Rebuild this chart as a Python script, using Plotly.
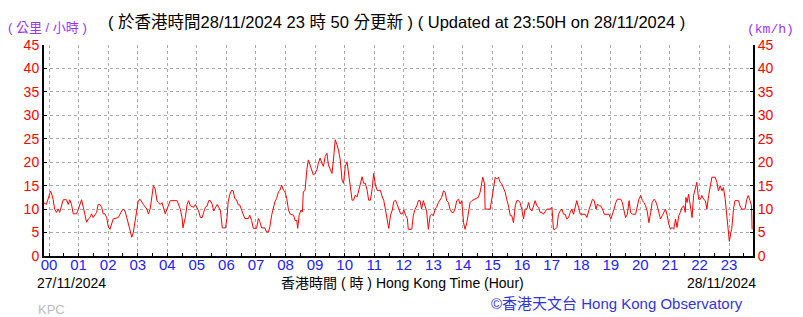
import plotly.graph_objects as go

# Wind speed (km/h), time in hours of 28/11/2024 (negative = 27/11)
hours = [
    -0.18, -0.09, 0.05, 0.08, 0.14, 0.19, 0.25, 0.31, 0.36, 0.42, 0.48, 0.59, 0.65, 0.70, 0.76, 0.82, 0.93, 0.99,
    1.04, 1.10, 1.16, 1.21, 1.27, 1.33, 1.38, 1.44, 1.49, 1.61, 1.66, 1.72, 1.78, 1.83, 1.89, 1.95,
    2.00, 2.06, 2.12, 2.17, 2.34, 2.40, 2.46, 2.51, 2.57, 2.63, 2.68, 2.74, 2.80, 2.85, 2.91, 2.97,
    3.02, 3.08, 3.14, 3.19, 3.31, 3.36, 3.42, 3.48, 3.53, 3.59, 3.65, 3.70, 3.76, 3.82, 3.87, 3.93, 3.99,
    4.04, 4.10, 4.33, 4.38, 4.44, 4.50, 4.53, 4.58, 4.61, 4.67, 4.72, 4.78, 4.89, 4.95,
    5.01, 5.06, 5.12, 5.18, 5.23, 5.29, 5.35, 5.40, 5.46, 5.52, 5.57, 5.63, 5.69, 5.74, 5.80, 5.86, 5.97,
    6.02, 6.06, 6.11, 6.17, 6.23, 6.28, 6.34, 6.40, 6.45, 6.51, 6.57, 6.62, 6.74, 6.79, 6.85, 6.91,
    7.02, 7.08, 7.13, 7.19, 7.30, 7.36, 7.42, 7.47, 7.53, 7.59, 7.64, 7.70, 7.76, 7.81, 7.87, 7.93, 7.98,
    8.04, 8.10, 8.15, 8.27, 8.32, 8.38, 8.41, 8.46, 8.52, 8.57, 8.60, 8.66, 8.72, 8.77, 8.83, 8.89, 8.94,
    9.00, 9.06, 9.11, 9.17, 9.23, 9.28, 9.34, 9.40, 9.45, 9.51, 9.57, 9.62, 9.68, 9.74, 9.79, 9.85, 9.91, 9.96,
    10.02, 10.08, 10.13, 10.19, 10.25, 10.30, 10.36, 10.42, 10.47, 10.53, 10.59, 10.64, 10.70, 10.76, 10.81, 10.87, 10.93, 10.98,
    11.04, 11.10, 11.21, 11.27, 11.32, 11.38, 11.44, 11.49, 11.55, 11.61, 11.66, 11.72, 11.78, 11.83, 11.89, 11.95,
    12.00, 12.06, 12.12, 12.15, 12.27, 12.32, 12.38, 12.44, 12.49, 12.55, 12.60, 12.66, 12.72, 12.77, 12.83, 12.89, 12.94,
    13.00, 13.06, 13.11, 13.17, 13.23, 13.28, 13.34, 13.40, 13.45, 13.51, 13.56, 13.62, 13.68, 13.73, 13.79, 13.85, 13.90, 13.96,
    14.02, 14.07, 14.13, 14.19, 14.24, 14.30, 14.41, 14.52, 14.58, 14.64, 14.67, 14.73, 14.75, 14.92, 14.98,
    15.03, 15.09, 15.14, 15.20, 15.26, 15.31, 15.37, 15.43, 15.48, 15.54, 15.60, 15.65, 15.71, 15.77, 15.82, 15.88, 15.93, 15.99,
    16.05, 16.10, 16.16, 16.22, 16.27, 16.33, 16.39, 16.44, 16.50, 16.56, 16.61, 16.67, 16.72, 16.78, 16.84, 16.95,
    17.01, 17.06, 17.12, 17.18, 17.23, 17.29, 17.35, 17.40, 17.46, 17.51, 17.57, 17.63, 17.68, 17.74, 17.80, 17.85, 17.91, 17.97,
    18.14, 18.19, 18.27, 18.33, 18.38, 18.44, 18.50, 18.55, 18.61, 18.66, 18.72, 18.78, 18.94,
    19.00, 19.06, 19.11, 19.17, 19.22, 19.34, 19.39, 19.45, 19.50, 19.56, 19.62, 19.67, 19.73, 19.84, 19.90, 19.95,
    20.01, 20.07, 20.12, 20.18, 20.23, 20.29, 20.35, 20.40, 20.46, 20.51, 20.57, 20.63, 20.68, 20.74, 20.79, 20.85, 20.91, 20.96,
    21.02, 21.07, 21.13, 21.19, 21.24, 21.30, 21.35, 21.41, 21.47, 21.52, 21.54, 21.58, 21.63, 21.69, 21.75, 21.80, 21.86, 21.91, 21.97,
    22.03, 22.08, 22.14, 22.20, 22.25, 22.31, 22.36, 22.42, 22.53, 22.59, 22.64, 22.70, 22.76, 22.81, 22.87, 22.92, 22.98,
    23.01, 23.06, 23.09, 23.15, 23.20, 23.32, 23.37, 23.43, 23.54, 23.60, 23.65, 23.71, 23.76, 23.78,
]
speeds = [
    11.4, 11, 13.8, 13.5, 12, 10, 9.3, 10, 9.3, 11, 12, 12, 11, 12, 11, 9, 9, 10,
    11, 12, 10.4, 9, 7.2, 7.9, 8.2, 9, 8.2, 9.3, 11, 11, 10.4, 9, 9, 8.2,
    6.4, 5.7, 6.8, 7.9, 8.2, 9, 9.6, 10, 9.6, 8.2, 6.8, 5, 4, 5, 7.5, 10.4,
    11.8, 12.1, 11.4, 11, 10, 9, 10, 13.2, 15, 14.3, 11.8, 11.4, 11, 11.4, 10.4, 9, 10,
    11, 11.8, 11.8, 11, 10, 8.2, 6, 7.5, 8.2, 11, 11.8, 10.7, 10.4, 11,
    10.4, 9.6, 8.2, 8.2, 9.3, 10.4, 10.7, 11.8, 11.8, 11, 9.6, 10.4, 11, 10.4, 9.6, 6, 6,
    8.2, 11.6, 13, 14, 13.9, 12.3, 12, 10.9, 10.9, 9.8, 9, 8, 8, 8.7, 7.6, 5.9,
    5.9, 8, 7.3, 6, 6, 5.1, 5.1, 6.2, 8.7, 10.5, 11.6, 12.3, 13.7, 14, 15.1, 14, 13.7,
    12.3, 9.8, 9, 8.7, 7.6, 7.6, 5.9, 8.7, 9.8, 9.4, 13.7, 14, 18.4, 20.5, 19.4, 18, 17.3,
    17.6, 18.4, 19.8, 20.9, 19.8, 19.1, 21.2, 21.9, 19.4, 18.4, 17.6, 20.5, 24.8, 23.7, 22.6, 20.5, 16.2, 15.5,
    19.1, 20.1, 17.6, 13.7, 11.9, 11.9, 13, 12.6, 13.7, 15.1, 16.9, 15.5, 15.5, 14, 11.9, 11.9, 14.4, 17.6,
    15.1, 14, 14, 12.6, 11.9, 9.8, 8, 5.9, 8.7, 9.8, 11.6, 11.9, 10.9, 9.8, 9, 9,
    9.8, 8.7, 8, 5.7, 5.7, 8.6, 10, 10.7, 11.8, 11.8, 10, 11.8, 10.7, 9.6, 5.7, 8.6, 8.9,
    8.6, 10, 10.4, 11.4, 12.1, 12.5, 13.9, 13.6, 11.8, 11.4, 10, 9.3, 9.3, 10, 11.8, 12.1, 11.1, 11.8,
    7.1, 5.7, 7.1, 10, 11.4, 11.8, 12.1, 12.5, 13.6, 15.4, 16.8, 15.4, 10, 10, 12.9,
    14.3, 16.8, 16.4, 16.8, 15.7, 15.4, 14.6, 13.6, 12.1, 10.7, 8.6, 8.6, 7.1, 10.7, 11.8, 11.8, 11.4, 10,
    7.9, 10, 10, 11.4, 10, 9.6, 10.7, 11.8, 10.7, 10.4, 9.3, 9.3, 8.9, 9.6, 10, 10,
    10.4, 5.7, 5.7, 6.1, 8.9, 9.6, 10, 8.9, 8.9, 7.9, 8.2, 9.3, 10, 8.9, 10.7, 11.8, 10.4, 8.9,
    8.9, 8.2, 10, 11.4, 12.1, 11.8, 10, 11.1, 10.7, 10.7, 10, 8.9, 8.9,
    7.9, 8.9, 10, 11.4, 12.1, 12.1, 11.4, 9.6, 8.2, 8.9, 11.8, 9.3, 8.9, 8.9, 10.7, 12.1,
    12.9, 11.8, 11.4, 10.7, 9.6, 7.1, 9.3, 11.4, 12.1, 11.8, 10.7, 9.3, 7.9, 8.6, 9.3, 10, 8.6, 6.8,
    5.7, 6.1, 5.7, 7.9, 6.1, 8.6, 9.3, 10.4, 10.7, 9.3, 12.5, 11.4, 13.2, 10.7, 8.2, 12.9, 14.6, 15.7, 12.1,
    12.1, 12.9, 12.1, 11.8, 10, 12.9, 15, 16.8, 16.8, 15.7, 13.9, 15, 13.9, 14.6, 12.1, 8.6, 5,
    3.1, 5, 5.7, 10, 11.8, 11.8, 10.7, 10, 10, 12.1, 12.9, 11.8, 10.7, 5.7,
]

hour_ticks = list(range(24))
hour_labels = [f"{h:02d}" for h in hour_ticks]
speed_ticks = list(range(0, 50, 5))

title_text = "( 於香港時間28/11/2024 23 時 50 分更新 ) ( Updated at 23:50H on 28/11/2024 )"
unit_left = "( 公里 / 小時 )"
unit_right = "(km/h)"
date_left = "27/11/2024"
date_right = "28/11/2024"
axis_title = "香港時間 ( 時 ) Hong Kong Time (Hour)"
credit = "©香港天文台 Hong Kong Observatory"
station = "KPC"

W, H = 803, 317
L, R, T, B = 44, 50, 45, 61
PW, PH = W - L - R, H - T - B

def px(x):
    return (x - L) / PW

def py(y):
    return (H - B - y) / PH

FONT = "Liberation Sans, Noto Sans CJK TC, sans-serif"

fig = go.Figure()
fig.add_trace(go.Scatter(x=hours, y=speeds, mode="lines",
                         line=dict(color="#ff0000", width=1), hoverinfo="skip"))
fig.add_trace(go.Scatter(x=[None], y=[None], yaxis="y2", showlegend=False, hoverinfo="skip"))

grid = dict(showgrid=True, gridcolor="#aaaaaa", griddash="dot", gridwidth=1)

fig.update_layout(
    width=W, height=H, margin=dict(l=L, r=R, t=T, b=B),
    paper_bgcolor="white", plot_bgcolor="white", showlegend=False,
    font=dict(family=FONT, color="#000000"),
    xaxis=dict(range=[-0.17, 23.81], tickvals=hour_ticks, ticktext=hour_labels,
               tickfont=dict(color="#2222ff", size=15), ticks="inside", ticklen=3,
               ticklabelstandoff=-6,
               tickcolor="black", showline=True, linecolor="black", linewidth=2,
               zeroline=False, minor=dict(dtick=0.5, tick0=0, ticks="inside", ticklen=3,
                                          tickcolor="black", showgrid=False),
               **grid),
    yaxis=dict(range=[0, 45], tickvals=speed_ticks, tickfont=dict(color="#ff0000", size=14),
               ticks="inside", ticklen=3, tickcolor="black", showline=True, linecolor="black",
               linewidth=2, zeroline=False, **grid),
    yaxis2=dict(range=[0, 45], tickvals=speed_ticks, tickfont=dict(color="#ff0000", size=14),
                overlaying="y", side="right", ticks="inside", ticklen=3, tickcolor="black",
                showline=True, linecolor="black", linewidth=2, zeroline=False, showgrid=False),
)

def ann(text, x, y, xanchor, size, color, family=FONT):
    fig.add_annotation(text=text, x=px(x), y=py(y), xref="paper", yref="paper",
                       xanchor=xanchor, yanchor="middle", showarrow=False,
                       font=dict(size=size, color=color, family=family))

ann(title_text, 396, 22, "center", 16.5, "#000000")
ann(unit_left, 6, 28, "left", 13, "#9933ff")
ann(unit_right, 745, 29, "left", 13, "#9933ff", "Liberation Mono, DejaVu Sans Mono, monospace")
ann(date_left, 35, 283, "left", 14, "#000000")
ann(axis_title, 402, 283, "center", 14, "#000000")
ann(date_right, 758, 283, "right", 14, "#000000")
ann(credit, 745, 303, "right", 15, "#3333dd")
ann(station, 36, 309, "left", 13, "#bbbbbb")

fig.write_html("out.html")
